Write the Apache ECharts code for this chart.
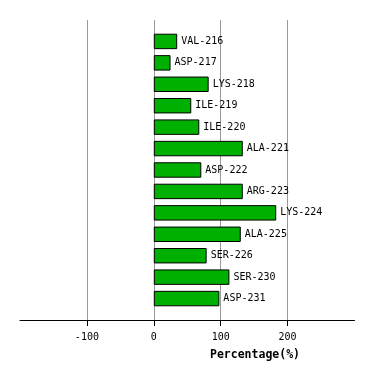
<!DOCTYPE html>
<html>
<head>
<meta charset="utf-8">
<script src="https://cdn.jsdelivr.net/npm/echarts@6/dist/echarts.min.js"></script>
<style>html,body{margin:0;padding:0;background:#fff;}#c{width:374px;height:380px;}</style>
</head>
<body>
<div id="c"></div>
<script>
const categories = ['VAL-216','ASP-217','LYS-218','ILE-219','ILE-220','ALA-221','ASP-222','ARG-223','LYS-224','ALA-225','SER-226','SER-230','ASP-231'];
const percentages = [35, 25, 82, 56, 68, 133, 71, 133, 183, 130, 79, 113, 98];
const xTicks = { min: -200, max: 300, interval: 100 };
const axisTitle = 'Percentage(%)';

const mono = 'DejaVu Sans Mono';
const chart = echarts.init(document.getElementById('c'));
const band = 300 / (categories.length + 1);
chart.setOption({
  animation: false,
  backgroundColor: '#fff',
  grid: [
    { left: 20, right: 19.5, top: 20, bottom: 60 },
    { left: 20, right: 19.5, top: 20 + band / 2, height: band * categories.length }
  ],
  xAxis: [
    {
      gridIndex: 0, type: 'value', min: xTicks.min, max: xTicks.max, interval: xTicks.interval,
      axisLine: { show: true, lineStyle: { color: '#000', width: 1 } },
      axisTick: { show: true, length: 6, lineStyle: { color: '#000' } },
      axisLabel: { showMinLabel: false, showMaxLabel: false, margin: 12, color: '#000', fontFamily: mono, fontSize: 10 },
      splitLine: { show: true, showMinLine: false, showMaxLine: false, lineStyle: { color: '#999', width: 1 } }
    },
    { gridIndex: 1, type: 'value', min: xTicks.min, max: xTicks.max, interval: xTicks.interval, show: false }
  ],
  yAxis: [
    { gridIndex: 0, type: 'value', show: false, min: 0, max: 1 },
    { gridIndex: 1, type: 'category', data: categories, inverse: true, show: false }
  ],
  graphic: [{
    type: 'text', left: 210, top: 349,
    style: { text: axisTitle, font: 'bold 11.5px "DejaVu Sans Mono"', fill: '#000' }
  }],
  series: [{
    type: 'bar', xAxisIndex: 1, yAxisIndex: 1, data: percentages,
    barCategoryGap: '28%',
    itemStyle: { color: '#00b000', borderColor: '#000', borderWidth: 1 },
    label: { show: true, position: 'right', distance: 4, formatter: '{b}', color: '#000', fontFamily: mono, fontSize: 10 }
  }]
});
</script>
</body>
</html>
